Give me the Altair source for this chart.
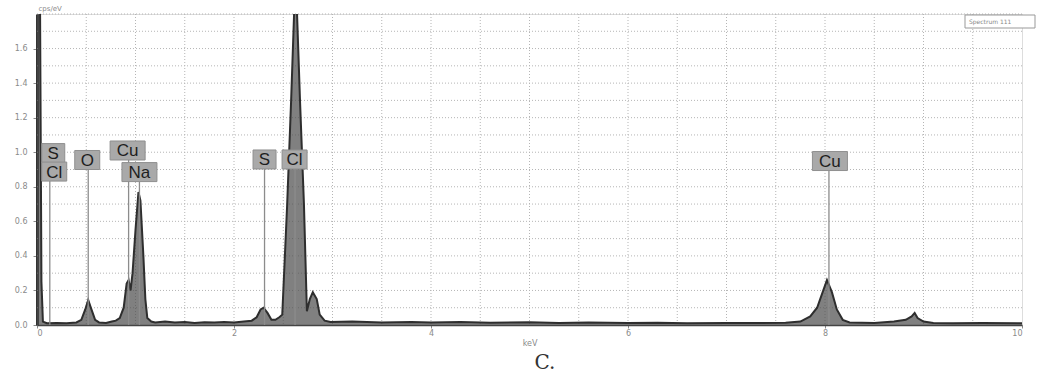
import altair as alt
import pandas as pd
import numpy as np

# ---- spectrum ----
energy = [0.00, 0.03, 0.045, 0.06, 0.10, 0.20, 0.30, 0.40, 0.45, 0.49, 0.52, 0.55, 0.59, 0.63,
          0.70, 0.76, 0.80, 0.84, 0.88, 0.91, 0.93, 0.95, 0.97, 1.00, 1.03, 1.05, 1.08, 1.10, 1.12, 1.16,
          1.20, 1.30, 1.40, 1.50, 1.60, 1.70, 1.80, 1.90, 2.00, 2.10, 2.18, 2.23, 2.27, 2.30, 2.34,
          2.38, 2.42, 2.46, 2.49, 2.54, 2.58, 2.61, 2.625, 2.64, 2.67, 2.71, 2.74, 2.77, 2.80,
          2.84, 2.87, 2.92, 2.98, 3.20, 3.50, 3.80, 4.00, 4.30, 4.60, 5.00, 5.30, 5.60, 6.00,
          6.30, 6.60, 7.00, 7.30, 7.60, 7.75, 7.85, 7.92, 7.97, 8.02, 8.07, 8.12, 8.18, 8.25,
          8.50, 8.70, 8.82, 8.88, 8.91, 8.94, 9.00, 9.10, 9.30, 9.60, 10.00]
counts = [1.95, 1.95, 0.25, 0.02, 0.010, 0.012, 0.010, 0.015, 0.030, 0.090, 0.145, 0.095, 0.030, 0.015,
          0.012, 0.020, 0.025, 0.040, 0.100, 0.240, 0.260, 0.200, 0.300, 0.550, 0.770, 0.720, 0.400, 0.150, 0.040, 0.020,
          0.015, 0.020, 0.015, 0.018, 0.012, 0.016, 0.014, 0.018, 0.015, 0.020, 0.025, 0.045, 0.090, 0.100, 0.070,
          0.030, 0.030, 0.045, 0.060, 0.700, 1.300, 1.800, 2.000, 1.800, 1.300, 0.700, 0.080, 0.150, 0.190,
          0.150, 0.060, 0.025, 0.018, 0.020, 0.015, 0.018, 0.014, 0.017, 0.013, 0.016, 0.012, 0.014, 0.011,
          0.013, 0.010, 0.012, 0.011, 0.013, 0.020, 0.050, 0.100, 0.180, 0.260, 0.190, 0.090, 0.030, 0.015,
          0.012, 0.020, 0.030, 0.050, 0.070, 0.040, 0.020, 0.012, 0.010, 0.012, 0.010]

# ---- element labels ----
lab_names = ["S", "Cl", "O", "Cu", "Na", "S", "Cl", "Cu"]
lab_energy = [0.165, 0.175, 0.51, 0.92, 1.04, 2.31, 2.615, 8.05]
lab_line_energy = [0.13, 0.13, 0.52, 0.93, 1.04, 2.31, 2.62, 8.04]
lab_level = [0.995, 0.888, 0.955, 1.010, 0.885, 0.958, 0.958, 0.949]
lab_draw_line = [False, True, True, True, True, True, True, True]

x_ticks = [0, 2, 4, 6, 8, 10]
y_ticks = [0.0, 0.2, 0.4, 0.6, 0.8, 1.0, 1.2, 1.4, 1.6]

W, H = 985, 311
XMAX, YMAX = 10.0, 1.8
kev_per_px = XMAX / W
cps_per_px = YMAX / H
BOX_W = {"S": 23, "O": 25, "Cl": 25, "Cu": 35, "Na": 35}

spec = pd.DataFrame({"keV": energy, "cps": counts})

lab = pd.DataFrame({"name": lab_names, "e": lab_energy, "le": lab_line_energy,
                    "lvl": lab_level, "drawline": lab_draw_line})
half_w_px = lab["name"].map(BOX_W) / 2.0
lab["x0"] = lab["e"] - half_w_px * kev_per_px
lab["x1"] = lab["e"] + half_w_px * kev_per_px
lab["y0"] = lab["lvl"] - 9.5 * cps_per_px
lab["y1"] = lab["lvl"] + 9.5 * cps_per_px
lines = lab[lab["drawline"]].copy()
lines["yb"] = 0.0

xs = alt.Scale(domain=[0, XMAX], nice=False, zero=False)
ys = alt.Scale(domain=[0, YMAX], nice=False, zero=False)

AX_X = alt.Axis(
    values=x_ticks, grid=False, labelFontSize=8, labelColor="#8a8a8a", labelFont="DejaVu Sans",
    tickColor="#8a8a8a", tickSize=3, domainColor="#444", domainWidth=1.5,
    title="keV", titleFontSize=8, titleColor="#8a8a8a", titleFontWeight="normal",
    titleFont="DejaVu Sans", labelPadding=1, titlePadding=2)
AX_Y = alt.Axis(
    values=y_ticks, format=".1f", grid=False, labelFontSize=8, labelColor="#8a8a8a",
    labelFont="DejaVu Sans", tickColor="#8a8a8a", tickSize=4, domainColor="#333", domainWidth=3,
    title="cps/eV", titleAngle=0, titleX=1, titleY=-3, titleAlign="left",
    titleFontSize=7, titleColor="#8a8a8a", titleFontWeight="normal", titleFont="DejaVu Sans",
    labelPadding=6)

grid_v = pd.DataFrame({"g": np.arange(0.5, 10.0, 0.5)})
grid_h = pd.DataFrame({"g": np.round(np.arange(0.1, 1.81, 0.1), 2)})

gv = alt.Chart(grid_v).mark_rule(color="#b5b5b5", strokeDash=[1, 2], strokeWidth=1).encode(
    x=alt.X("g:Q", scale=xs, axis=AX_X))
gh = alt.Chart(grid_h).mark_rule(color="#b5b5b5", strokeDash=[1, 2], strokeWidth=1).encode(
    y=alt.Y("g:Q", scale=ys, axis=AX_Y))

area = alt.Chart(spec).mark_area(
    color="#4a4a4a", clip=True, interpolate="linear",
    line={"color": "#2e2e2e", "strokeWidth": 2}
).encode(
    x=alt.X("keV:Q", scale=xs, axis=AX_X),
    y=alt.Y("cps:Q", scale=ys, axis=AX_Y),
)

lab_lines = alt.Chart(lines).mark_rule(color="#8c8c8c", strokeWidth=1.3).encode(
    x=alt.X("le:Q", scale=xs, axis=AX_X),
    y=alt.Y("yb:Q", scale=ys, axis=AX_Y),
    y2="y0:Q",
)

boxes = alt.Chart(lab).mark_rect(color="#a9a9a9", stroke="#8f8f8f", strokeWidth=1).encode(
    x=alt.X("x0:Q", scale=xs, axis=AX_X), x2="x1:Q",
    y=alt.Y("y0:Q", scale=ys, axis=AX_Y), y2="y1:Q",
)
texts = alt.Chart(lab).mark_text(font="Liberation Sans", fontSize=17, color="#1e1e1e",
                                 baseline="middle", align="center", dy=1).encode(
    x=alt.X("e:Q", scale=xs, axis=AX_X),
    y=alt.Y("lvl:Q", scale=ys, axis=AX_Y),
    text="name:N",
)

one = pd.DataFrame({"t": ["C."]})
caption = alt.Chart(one).mark_text(font="DejaVu Serif", fontSize=20, color="#333",
                                   baseline="middle", align="center").encode(
    x=alt.value(508), y=alt.value(349), text="t:N")

legbox = alt.Chart(one).mark_rect(fill="white", stroke="#999", strokeWidth=1).encode(
    x=alt.value(928), x2=alt.value(998), y=alt.value(1), y2=alt.value(14))
legtext = alt.Chart(pd.DataFrame({"t": ["Spectrum 111"]})).mark_text(
    font="DejaVu Sans", fontSize=6, color="#888", align="left", baseline="middle").encode(
    x=alt.value(932), y=alt.value(7.5), text="t:N")

chart = alt.layer(gv, gh, area, lab_lines, boxes, texts, legbox, legtext, caption).properties(
    width=W, height=H,
    autosize=alt.AutoSizeParams(type="none"),
    padding={"left": 37, "top": 14, "right": 16, "bottom": 56},
).configure_view(stroke=None).configure(background="white")

chart.save("out.html", embed_options={"renderer": "svg", "actions": False})
